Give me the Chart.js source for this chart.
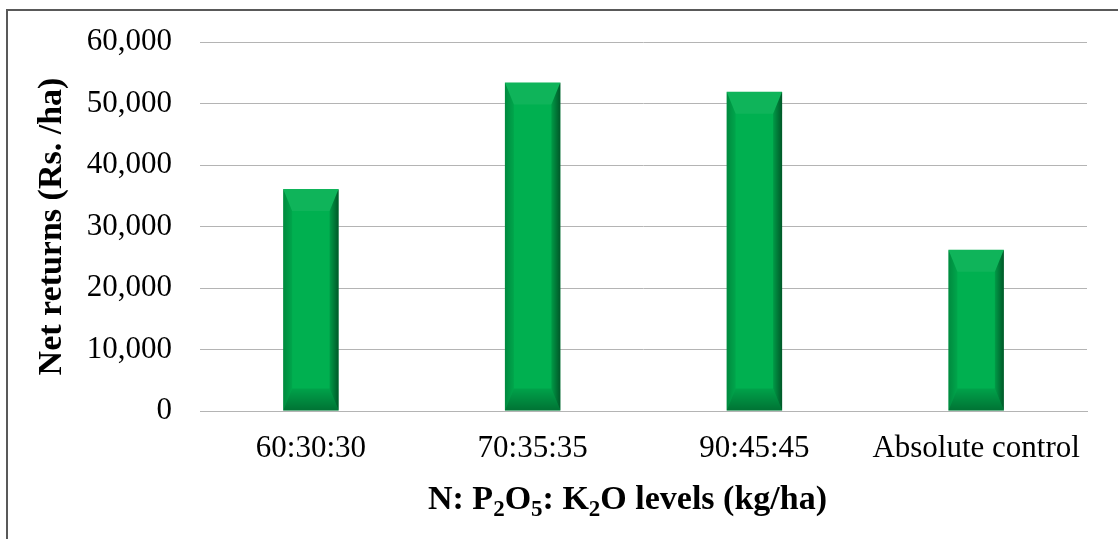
<!DOCTYPE html>
<html>
<head>
<meta charset="utf-8">
<script src="https://cdn.jsdelivr.net/npm/chart.js@4/dist/chart.umd.min.js"></script>
<style>
  html, body { margin: 0; padding: 0; background: #fff; overflow: hidden; }
  #frame { position: absolute; left: 6px; top: 9px; width: 1200px; height: 600px; border: 2px solid #595959; }
  #wrap { position: absolute; left: 0; top: 0; width: 1118px; height: 539px; }
</style>
</head>
<body>
<div id="frame"></div>
<div id="wrap"><canvas id="myChart" width="1118" height="539"></canvas></div>
<script>
let levels = ['60:30:30', '70:35:35', '90:45:45', 'Absolute control']
let netReturns = [36100, 53400, 51900, 26200]
let yTicks = [0, 10000, 20000, 30000, 40000, 50000, 60000]

let serif = "'Liberation Serif', 'Times New Roman', serif"

// bevel look on each bar, drawn over the bar elements from chart.js
let bevelPlugin = {
    id: 'bevel',
    afterDatasetsDraw(chart) {
        let ctx = chart.ctx
        chart.getDatasetMeta(0).data.forEach(function(bar) {
            let L = bar.x - bar.width / 2
            let R = bar.x + bar.width / 2
            let T = bar.y
            let B = bar.base
            let bw = 9, bh = 22
            ctx.save()
            // top
            ctx.beginPath()
            ctx.moveTo(L, T); ctx.lineTo(R, T); ctx.lineTo(R - bw, T + bh); ctx.lineTo(L + bw, T + bh); ctx.closePath()
            ctx.fillStyle = 'rgba(255,255,255,0.06)'
            ctx.fill()
            // left
            let gl = ctx.createLinearGradient(L, 0, L + bw, 0)
            gl.addColorStop(0, 'rgba(0,0,0,0.22)')
            gl.addColorStop(1, 'rgba(0,0,0,0.06)')
            ctx.beginPath()
            ctx.moveTo(L, T); ctx.lineTo(L + bw, T + bh); ctx.lineTo(L + bw, B - bh); ctx.lineTo(L, B); ctx.closePath()
            ctx.fillStyle = gl
            ctx.fill()
            // right
            let gr = ctx.createLinearGradient(R, 0, R - bw, 0)
            gr.addColorStop(0, 'rgba(0,0,0,0.5)')
            gr.addColorStop(1, 'rgba(0,0,0,0.12)')
            ctx.beginPath()
            ctx.moveTo(R, T); ctx.lineTo(R - bw, T + bh); ctx.lineTo(R - bw, B - bh); ctx.lineTo(R, B); ctx.closePath()
            ctx.fillStyle = gr
            ctx.fill()
            // bottom
            let gb = ctx.createLinearGradient(0, B, 0, B - bh)
            gb.addColorStop(0, 'rgba(0,0,0,0.35)')
            gb.addColorStop(1, 'rgba(0,0,0,0.08)')
            ctx.beginPath()
            ctx.moveTo(L, B); ctx.lineTo(L + bw, B - bh); ctx.lineTo(R - bw, B - bh); ctx.lineTo(R, B); ctx.closePath()
            ctx.fillStyle = gb
            ctx.fill()
            ctx.restore()
        })
    }
}

// x axis title with real subscripts
let xTitlePlugin = {
    id: 'xTitle',
    afterDraw(chart) {
        let ctx = chart.ctx
        let parts = [['N: P', 0], ['2', 1], ['O', 0], ['5', 1], [': K', 0], ['2', 1], ['O levels (kg/ha)', 0]]
        let big = 'bold 34px ' + serif
        let small = 'bold 23px ' + serif
        let total = 0
        parts.forEach(function(p) {
            ctx.font = p[1] ? small : big
            total += ctx.measureText(p[0]).width
        })
        let area = chart.chartArea
        let x = (area.left + area.right) / 2 - total / 2 - 16
        let y = 509
        ctx.save()
        ctx.fillStyle = '#000'
        ctx.textBaseline = 'alphabetic'
        ctx.textAlign = 'left'
        parts.forEach(function(p) {
            ctx.font = p[1] ? small : big
            ctx.fillText(p[0], x, p[1] ? y + 7 : y)
            x += ctx.measureText(p[0]).width
        })
        ctx.restore()
    }
}

let chartCtx = document.getElementById('myChart').getContext('2d')
let myChart = new Chart(chartCtx, {
    type: 'bar',
    data: {
        labels: levels,
        datasets: [
            {
                data: netReturns,
                backgroundColor: '#00B050',
                borderWidth: 0,
                categoryPercentage: 1,
                barPercentage: 0.25,
            },
        ],
    },
    options: {
        responsive: false,
        animation: false,
        layout: {
            padding: { left: 0, right: 31, top: 42, bottom: 0 },
        },
        plugins: {
            legend: { display: false },
            tooltip: { enabled: false },
        },
        scales: {
            x: {
                grid: { display: false, drawTicks: false },
                border: { display: true, color: '#B4B4B4', width: 1 },
                ticks: {
                    color: '#000',
                    padding: 19,
                    maxRotation: 0,
                    font: { family: serif, size: 31 },
                },
                afterFit: function(scale) { scale.height = 128 },
            },
            y: {
                min: 0,
                max: 60000,
                afterBuildTicks: function(scale) {
                    scale.ticks = yTicks.map(function(v) { return { value: v } })
                },
                grid: { color: '#B4B4B4', drawTicks: false },
                border: { display: false },
                ticks: {
                    color: '#000',
                    padding: 28,
                    font: { family: serif, size: 31 },
                    callback: function(v) { return Number(v).toLocaleString('en-US') },
                },
                title: {
                    display: true,
                    text: 'Net returns (Rs. /ha)',
                    color: '#000',
                    padding: { top: 32, bottom: 0 },
                    font: { family: serif, size: 34, weight: 'bold' },
                },
                afterFit: function(scale) {
                    scale.width = 200
                    scale.paddingTop = 0
                    scale.paddingBottom = 0
                },
            },
        },
    },
    plugins: [bevelPlugin, xTitlePlugin],
})
</script>
</body>
</html>
